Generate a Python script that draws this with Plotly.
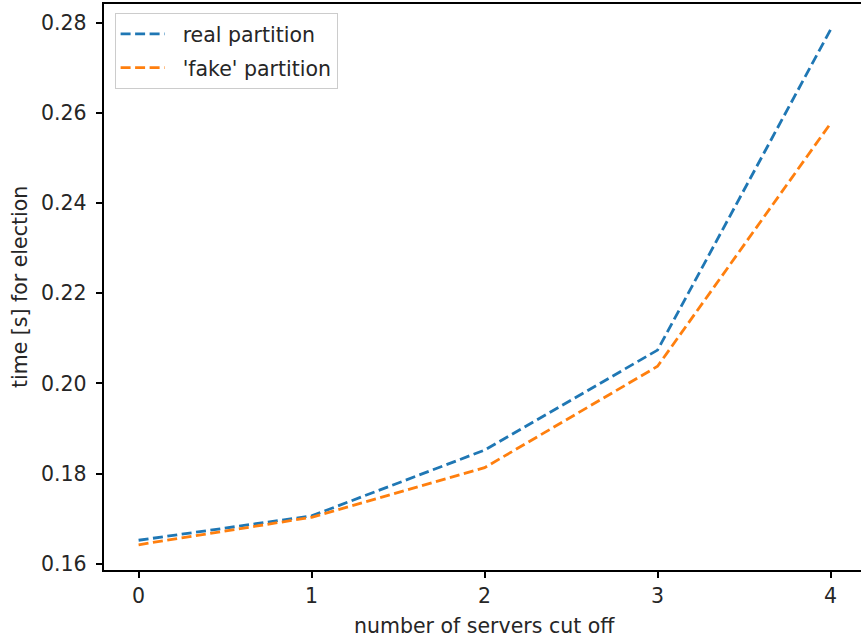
import plotly.graph_objects as go

# servers cut off vs. election time
servers_cut = [0, 1, 2, 3, 4]
real_partition = [0.1652, 0.1706, 0.1852, 0.2074, 0.2785]
fake_partition = [0.1642, 0.1703, 0.1813, 0.2038, 0.2577]
x_ticks = [0, 1, 2, 3, 4]
y_ticks = [0.16, 0.18, 0.20, 0.22, 0.24, 0.26, 0.28]
series_names = ["real partition", "'fake' partition"]

FONT = "DejaVu Sans"
FS = 20.5
TXT = "#262626"
BLUE = "#1f77b4"
ORANGE = "#ff7f0e"
PAD = "&nbsp;&nbsp;"  # gap between legend line sample and label

fig = go.Figure()
fig.add_trace(go.Scatter(
    x=servers_cut, y=real_partition, mode="lines", name=PAD + series_names[0],
    legendgroup="real",
    line=dict(color=BLUE, width=2.8, dash="10px,4.5px"),
))
fig.add_trace(go.Scatter(
    x=servers_cut, y=fake_partition, mode="lines", name=PAD + series_names[1],
    legendgroup="fake",
    line=dict(color=ORANGE, width=2.8, dash="10px,4.5px"),
))

fig.update_layout(
    width=861, height=639,
    margin=dict(l=104, r=0, t=4, b=69),
    paper_bgcolor="white", plot_bgcolor="white",
    font=dict(family=FONT, size=FS, color=TXT),
    showlegend=True,
    legend=dict(
        x=0.014, y=0.984, xanchor="left", yanchor="top",
        bgcolor="rgba(255,255,255,0.8)", bordercolor="#cccccc", borderwidth=1,
        font=dict(family=FONT, size=FS, color=TXT),
        itemwidth=44, tracegroupgap=4,
    ),
    xaxis=dict(
        range=[-0.2, 4.176], tickvals=x_ticks, ticktext=[str(v) for v in x_ticks],
        showgrid=False, zeroline=False,
        showline=True, linecolor="black", linewidth=1.5, mirror=True,
        ticks="outside", ticklen=6.6, tickwidth=1.5, tickcolor="black",
    ),
    yaxis=dict(
        range=[0.1586, 0.2842], tickvals=y_ticks,
        ticktext=[f"{v:.2f}" for v in y_ticks],
        showgrid=False, zeroline=False,
        showline=True, linecolor="black", linewidth=1.5, mirror=False,
        ticks="outside", ticklen=6.6, tickwidth=1.5, tickcolor="black",
        ticklabelstandoff=5,
    ),
    annotations=[
        dict(text="number of servers cut off", x=2.0, xref="x", y=0, yref="paper",
             xanchor="center", yanchor="middle", yshift=-56, showarrow=False,
             font=dict(family=FONT, size=FS, color=TXT)),
        dict(text="time [s] for election", x=0, xref="paper", xshift=-84,
             xanchor="center", y=0.5, yref="paper", yanchor="middle",
             textangle=-90, showarrow=False,
             font=dict(family=FONT, size=FS, color=TXT)),
    ],
)

fig.write_html("out.html")
